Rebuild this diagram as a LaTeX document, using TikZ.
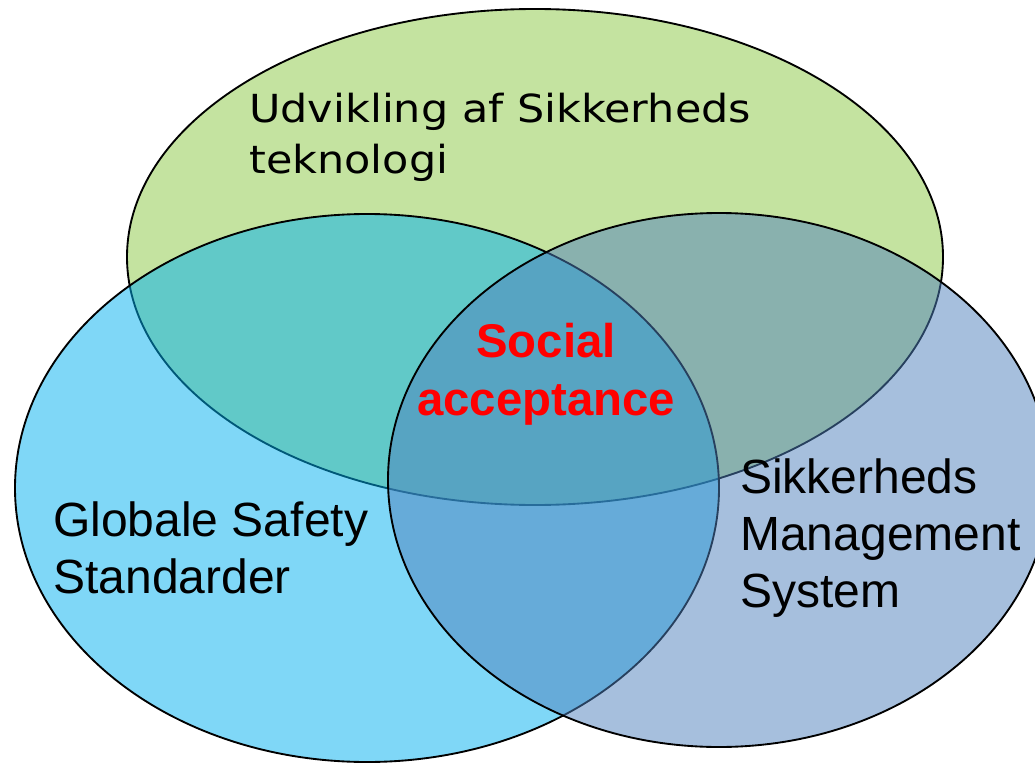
\documentclass[tikz,border=0pt]{standalone}
\usepackage{fontspec}
\setmainfont{Liberation Sans}
\newfontfamily\verdana[FakeStretch=1.11]{DejaVu Sans}
\usetikzlibrary{shapes.geometric}
\definecolor{tekgreen}{RGB}{196,227,160}
\definecolor{globblue}{RGB}{0,176,240}
\definecolor{sikblue}{RGB}{79,129,189}
\begin{document}
\begin{tikzpicture}[x=0.75pt,y=-0.75pt]
      \useasboundingbox (0,0) rectangle (1035,763);
      \clip (0,0) rectangle (1035,763);
      \fill[white] (0,0) rectangle (1035,763);
      \begin{scope}[every node/.style={draw=black,ellipse,line width=1.4pt,inner sep=0pt}]
        \node[fill=tekgreen,minimum width=612pt,minimum height=372pt] (tek) at (535,257) {};
        \node[fill=globblue,fill opacity=0.5,minimum width=528pt,minimum height=411pt] (glob) at (367,488) {};
        \node[fill=sikblue,fill opacity=0.5,minimum width=496.5pt,minimum height=400.5pt] (sik) at (719,480) {};
      \end{scope}
      % anchors sit on the last line's baseline
      \begin{scope}[every node/.style={anchor=base west,align=left,inner sep=0pt,font=\fontsize{36}{42.5}\selectfont}]
        \node[font=\verdana\fontsize{29}{38.25}\selectfont] (tektxt) at (249,174) {Udvikling af Sikkerheds\\teknologi};
        \node (globtxt) at (53,593) {Globale Safety\\Standarder};
        \node (siktxt) at (740,607) {Sikkerheds\\Management\\System};
        \node[anchor=base,align=center,text=red,font=\bfseries\fontsize{35.5}{43.5}\selectfont] (soc) at (546,415) {Social\\acceptance};
      \end{scope}
    \end{tikzpicture}
\end{document}
